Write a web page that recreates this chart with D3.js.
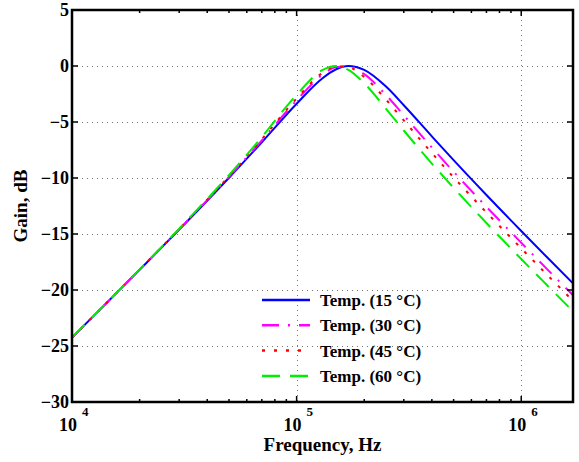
<!DOCTYPE html>
<html>
<head>
<meta charset="utf-8">
<script src="https://cdn.jsdelivr.net/npm/d3@7"></script>
<style>
  body { margin: 0; background: #fff; }
  text { font-family: "Liberation Serif", "Times New Roman", serif; font-weight: bold; }
</style>
</head>
<body>
<script>
// frequency points (Hz) and gains (dB)
const freqs = [1e4, 2e4, 3e4, 5e4, 7e4, 1e5, 1.3e5, 1.5e5, 1.7e5, 2e5, 2.5e5, 3e5, 4e5, 5e5, 7e5, 1e6, 1.3e6, 1.7e6];
const gain15 = [-24.25, -18.19, -14.61, -9.98, -6.81, -3.37, -1.11, -0.29, 0.0, -0.35, -1.84, -3.50, -6.28, -8.41, -11.52, -14.73, -17.06, -19.41];
const gain30 = [-24.26, -18.19, -14.58, -9.90, -6.64, -3.07, -0.80, -0.10, -0.04, -0.73, -2.59, -4.40, -7.28, -9.44, -12.57, -15.78, -18.11, -20.47];
const gain45 = [-24.25, -18.17, -14.56, -9.84, -6.54, -2.90, -0.64, -0.04, -0.11, -0.98, -3.00, -4.86, -7.77, -9.94, -13.07, -16.28, -18.61, -20.97];
const gain60 = [-24.24, -18.16, -14.52, -9.74, -6.35, -2.57, -0.37, 0.0, -0.35, -1.55, -3.82, -5.76, -8.71, -10.88, -14.02, -17.23, -19.55, -21.91];
const seriesNames = ["Temp. (15 \u00B0C)", "Temp. (30 \u00B0C)", "Temp. (45 \u00B0C)", "Temp. (60 \u00B0C)"];
const yTicks = [5, 0, -5, -10, -15, -20, -25, -30];
const xDecades = [4, 5, 6];

const W = 579, H = 462;
const m = {left: 72, right: 6, top: 10, bottom: 60};

const svg = d3.select("body").append("svg")
    .attr("width", W)
    .attr("height", H);

const x = d3.scaleLog().domain([1e4, 1.7e6]).range([m.left, W - m.right]);
const y = d3.scaleLinear().domain([-30, 5]).range([H - m.bottom, m.top]);

const styles = [
    {color: "#0000ff", dash: null},
    {color: "#ff00ff", dash: "17,9,2,9"},
    {color: "#ff0000", dash: "3,9"},
    {color: "#00ee00", dash: "18,10"}
];

// grid
const grid = svg.append("g").attr("class", "grid")
    .attr("stroke", "#777").attr("stroke-width", 1).attr("stroke-dasharray", "1,4");
grid.selectAll(".gy").data(yTicks.slice(1, -1)).enter().append("line")
    .attr("x1", m.left).attr("x2", W - m.right)
    .attr("y1", d => y(d) + 0.5).attr("y2", d => y(d) + 0.5);
grid.selectAll(".gx").data([1e5, 1e6]).enter().append("line")
    .attr("x1", d => Math.round(x(d)) + 0.5).attr("x2", d => Math.round(x(d)) + 0.5)
    .attr("y1", m.top).attr("y2", H - m.bottom);

// curves
svg.append("clipPath").attr("id", "clip").append("rect")
    .attr("x", m.left).attr("y", m.top)
    .attr("width", W - m.left - m.right).attr("height", H - m.top - m.bottom);

const line = d3.line()
    .x(d => x(d[0]))
    .y(d => y(d[1]))
    .curve(d3.curveMonotoneX);

const allGains = [gain15, gain30, gain45, gain60];
const curves = svg.append("g").attr("clip-path", "url(#clip)");
allGains.forEach(function (g, i) {
    curves.append("path")
        .datum(freqs.map((f, k) => [f, g[k]]))
        .attr("d", line)
        .attr("fill", "none")
        .attr("stroke", styles[i].color)
        .attr("stroke-width", 2)
        .attr("stroke-dasharray", styles[i].dash);
});

// ticks (inward, on all four sides)
const ticks = svg.append("g").attr("stroke", "#000").attr("stroke-width", 1.5);
yTicks.slice(1, -1).forEach(function (v) {
    ticks.append("line").attr("x1", m.left).attr("x2", m.left + 6).attr("y1", y(v)).attr("y2", y(v));
    ticks.append("line").attr("x1", W - m.right).attr("x2", W - m.right - 6).attr("y1", y(v)).attr("y2", y(v));
});
const minor = [];
[1e4, 1e5, 1e6].forEach(function (dec) {
    for (let k = 1; k <= 9; k++) {
        const f = dec * k;
        if (f >= 1e4 && f <= 1.7e6) minor.push({f: f, major: k === 1});
    }
});
minor.forEach(function (d) {
    const px = x(d.f), len = d.major ? 6 : 3;
    ticks.append("line").attr("x1", px).attr("x2", px).attr("y1", H - m.bottom).attr("y2", H - m.bottom - len);
    ticks.append("line").attr("x1", px).attr("x2", px).attr("y1", m.top).attr("y2", m.top + len);
});

// frame
svg.append("rect")
    .attr("x", m.left).attr("y", m.top)
    .attr("width", W - m.left - m.right).attr("height", H - m.top - m.bottom)
    .attr("fill", "none").attr("stroke", "#000").attr("stroke-width", 2.5);

// y tick labels
svg.selectAll(".ylab").data(yTicks).enter().append("text")
    .attr("x", m.left - 3)
    .attr("y", d => y(d))
    .attr("dy", "0.35em")
    .attr("text-anchor", "end")
    .attr("font-size", 18)
    .text(d => d < 0 ? "\u2212" + Math.abs(d) : d);

// x tick labels 10^n
const xl = svg.selectAll(".xlab").data(xDecades).enter().append("g")
    .attr("transform", d => "translate(" + x(Math.pow(10, d)) + ",0)");
xl.append("text")
    .attr("x", 5).attr("y", 431)
    .attr("text-anchor", "end")
    .attr("font-size", 18)
    .text("10");
xl.append("text")
    .attr("x", 10).attr("y", 416)
    .attr("font-size", 13)
    .text(d => d);

// axis titles
svg.append("text")
    .attr("x", (m.left + W - m.right) / 2).attr("y", 451)
    .attr("text-anchor", "middle")
    .attr("font-size", 19)
    .text("Frequency, Hz");
svg.append("text")
    .attr("transform", "translate(27," + ((m.top + H - m.bottom) / 2) + ") rotate(-90)")
    .attr("text-anchor", "middle")
    .attr("font-size", 19)
    .text("Gain, dB");

// legend
const legend = svg.append("g");
seriesNames.forEach(function (name, i) {
    const ly = 300 + i * 25.3;
    legend.append("line")
        .attr("x1", 262).attr("x2", 310).attr("y1", ly).attr("y2", ly)
        .attr("stroke", styles[i].color).attr("stroke-width", 2.5)
        .attr("stroke-dasharray", styles[i].dash);
    legend.append("text")
        .attr("x", 320).attr("y", ly).attr("dy", "0.35em")
        .attr("font-size", 17)
        .text(name);
});
</script>
</body>
</html>
